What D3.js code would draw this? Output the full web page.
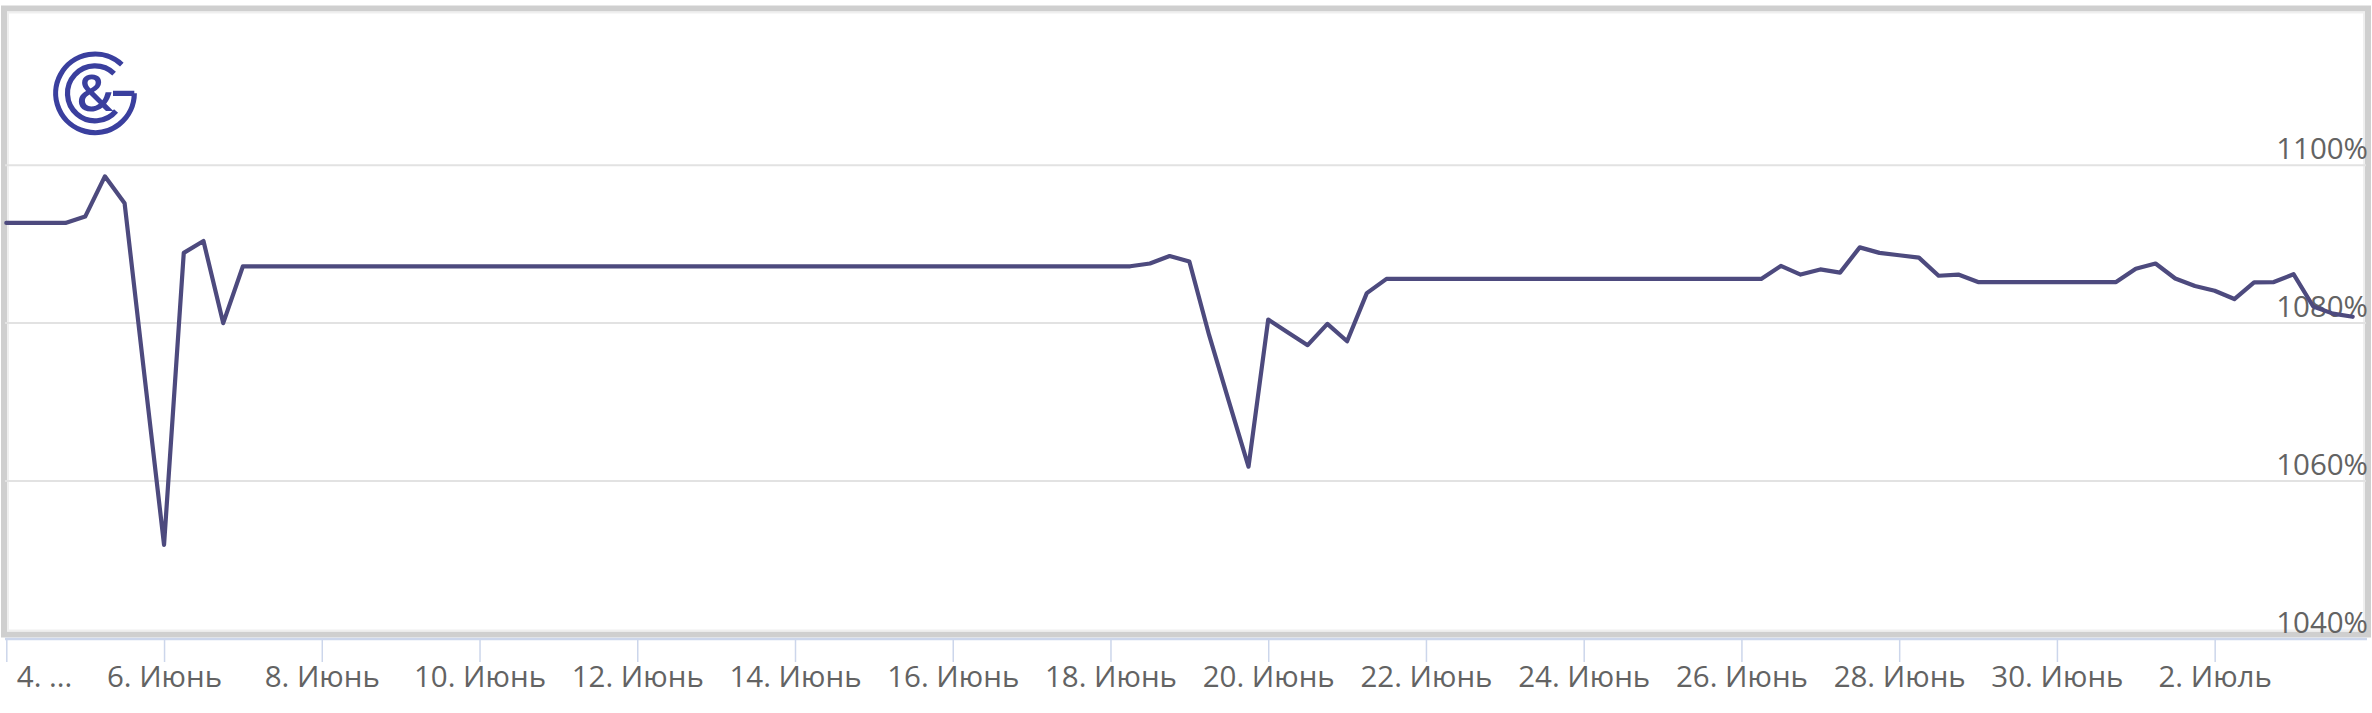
<!DOCTYPE html>
<html>
<head>
<meta charset="utf-8">
<script src="https://cdn.jsdelivr.net/npm/d3@7/dist/d3.min.js"></script>
<style>
  html, body { margin: 0; padding: 0; background: #ffffff; }
  svg { display: block; }
  text { font-family: "Open Sans", "DejaVu Sans", sans-serif; }
</style>
</head>
<body>
<svg id="chart" width="2372" height="713"></svg>
<script>
// ---------- data ----------
const seriesStart = "2023-06-04T00:00:00Z";   // first point, points every 6 hours
const stepHours = 6;
const values = [
  1092.7, 1092.7, 1092.7, 1092.7, 1093.5, 1098.6, 1095.2, 1073.5,
  1051.9, 1088.9, 1090.4, 1080.0, 1087.2, 1087.2, 1087.2, 1087.2,
  1087.2, 1087.2, 1087.2, 1087.2, 1087.2, 1087.2, 1087.2, 1087.2,
  1087.2, 1087.2, 1087.2, 1087.2, 1087.2, 1087.2, 1087.2, 1087.2,
  1087.2, 1087.2, 1087.2, 1087.2, 1087.2, 1087.2, 1087.2, 1087.2,
  1087.2, 1087.2, 1087.2, 1087.2, 1087.2, 1087.2, 1087.2, 1087.2,
  1087.2, 1087.2, 1087.2, 1087.2, 1087.2, 1087.2, 1087.2, 1087.2,
  1087.2, 1087.2, 1087.55, 1088.5, 1087.8, 1078.5, 1070.1, 1061.8,
  1080.45, 1078.8, 1077.2, 1079.9, 1077.7, 1083.8, 1085.6, 1085.6,
  1085.6, 1085.6, 1085.6, 1085.6, 1085.6, 1085.6, 1085.6, 1085.6,
  1085.6, 1085.6, 1085.6, 1085.6, 1085.6, 1085.6, 1085.6, 1085.6,
  1085.6, 1085.6, 1087.25, 1086.15, 1086.8, 1086.4, 1089.6, 1088.9,
  1088.6, 1088.3, 1086.0, 1086.15, 1085.2, 1085.2, 1085.2, 1085.2,
  1085.2, 1085.2, 1085.2, 1085.2, 1086.9, 1087.55, 1085.65, 1084.7,
  1084.1, 1083.05, 1085.15, 1085.2, 1086.2, 1082.1, 1081.2, 1080.8
];
const xTickDates = [
  "2023-06-04", "2023-06-06", "2023-06-08", "2023-06-10", "2023-06-12",
  "2023-06-14", "2023-06-16", "2023-06-18", "2023-06-20", "2023-06-22",
  "2023-06-24", "2023-06-26", "2023-06-28", "2023-06-30", "2023-07-02"
];
const xTickLabels = [
  "4. ...", "6. Июнь", "8. Июнь", "10. Июнь", "12. Июнь",
  "14. Июнь", "16. Июнь", "18. Июнь", "20. Июнь", "22. Июнь",
  "24. Июнь", "26. Июнь", "28. Июнь", "30. Июнь", "2. Июль"
];
const yTickValues = [1040, 1060, 1080, 1100];
const yTickLabels = ["1040%", "1060%", "1080%", "1100%"];

// ---------- layout ----------
const svg = d3.select("#chart");
const W = 2372, H = 713;
const axisY = 639;

const t0 = new Date(seriesStart);
const points = values.map((v, i) => ({
  t: new Date(t0.getTime() + i * stepHours * 3600 * 1000),
  v: v
}));

const x = d3.scaleUtc()
  .domain([new Date("2023-06-04T00:00:00Z"), new Date("2023-07-04T00:00:00Z")])
  .range([6.3, 6.3 + 30 * 78.87]);

const y = d3.scaleLinear()
  .domain([1040, 1120])
  .range([638.7, 638.7 - 80 * 7.89]);

// ---------- frame ----------
svg.append("rect")
  .attr("x", 0).attr("y", 0).attr("width", W).attr("height", H)
  .attr("fill", "#ffffff");

svg.append("rect")
  .attr("x", 4).attr("y", 8.5).attr("width", 2364).attr("height", 626)
  .attr("fill", "none").attr("stroke", "#cfcfcf").attr("stroke-width", 6);
svg.append("rect")
  .attr("x", 8).attr("y", 12.5).attr("width", 2356).attr("height", 618)
  .attr("fill", "none").attr("stroke", "#efefef").attr("stroke-width", 2);

// ---------- gridlines ----------
svg.append("g").selectAll("line")
  .data(yTickValues.filter(v => v > 1040))
  .join("line")
  .attr("x1", 5).attr("x2", 2366)
  .attr("y1", d => y(d)).attr("y2", d => y(d))
  .attr("stroke", "#e2e2e2").attr("stroke-width", 2);

// ---------- y labels ----------
svg.append("g").selectAll("text")
  .data(yTickValues)
  .join("text")
  .attr("x", 2368)
  .attr("y", d => y(d) - 6)
  .attr("text-anchor", "end")
  .attr("font-size", 29.5)
  .attr("fill", "#636363")
  .text((d, i) => yTickLabels[i]);

// ---------- x axis ----------
const xAxis = d3.axisBottom(x)
  .tickValues(xTickDates.map(d => new Date(d + "T00:00:00Z")))
  .tickSize(24)
  .tickSizeOuter(0)
  .tickFormat((d, i) => xTickLabels[i]);

const gx = svg.append("g")
  .attr("transform", `translate(0,${axisY - 1})`)
  .call(xAxis);
gx.select(".domain").remove();
gx.selectAll(".tick line")
  .attr("stroke", "#ccd6eb").attr("stroke-width", 1.5);
gx.selectAll(".tick text")
  .attr("y", 49).attr("dy", null)
  .attr("font-size", 29.5)
  .attr("fill", "#636363")
  .attr("font-family", "'Open Sans', sans-serif");
gx.selectAll(".tick").filter((d, i) => i === 0).select("text")
  .attr("text-anchor", "start").attr("x", 10);

svg.append("line")
  .attr("x1", 5).attr("x2", 2367)
  .attr("y1", axisY).attr("y2", axisY)
  .attr("stroke", "#ccd6eb").attr("stroke-width", 2.5);

// ---------- series ----------
const line = d3.line()
  .x(d => x(d.t))
  .y(d => y(d.v));

svg.append("path")
  .datum(points)
  .attr("d", line)
  .attr("fill", "none")
  .attr("stroke", "#4d4a7e")
  .attr("stroke-width", 4.2)
  .attr("stroke-linejoin", "round")
  .attr("stroke-linecap", "round");

// ---------- logo ----------
const logo = svg.append("g").attr("transform", "translate(95,93.3)");
const logoColor = "#3a3f9e";
const deg = Math.PI / 180;
function arcPath(r, a0, a1, ccw) {
  const p = d3.path();
  p.moveTo(r * Math.cos(a0), r * Math.sin(a0));
  p.arc(0, 0, r, a0, a1, ccw);
  return p.toString();
}
// outer G ring
logo.append("path")
  .attr("d", arcPath(39.3, -47 * deg, 0, true) + " M39.3,0 L18,0")
  .attr("fill", "none").attr("stroke", logoColor).attr("stroke-width", 5.2);
// inner C ring
logo.append("path")
  .attr("d", arcPath(27.5, -46 * deg, 40 * deg, true))
  .attr("fill", "none").attr("stroke", logoColor).attr("stroke-width", 5.2);
logo.append("text")
  .attr("x", 0).attr("y", 18)
  .attr("text-anchor", "middle")
  .attr("font-size", 50)
  .attr("font-weight", 600)
  .attr("fill", logoColor)
  .text("&");
</script>
</body>
</html>
